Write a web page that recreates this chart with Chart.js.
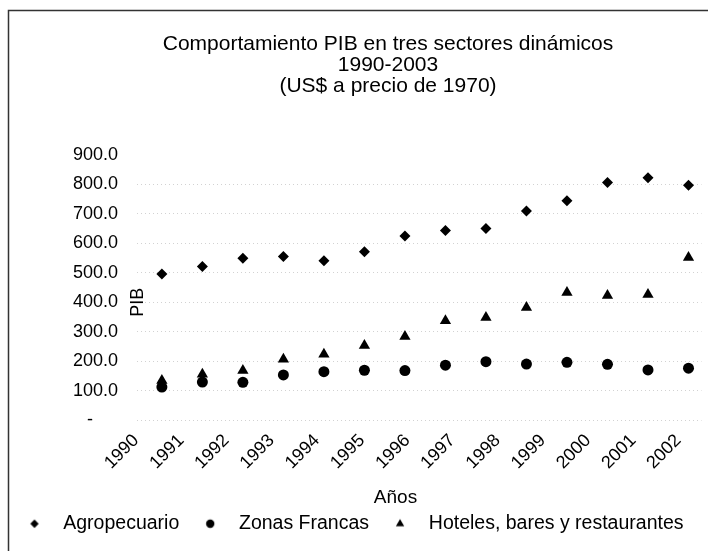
<!DOCTYPE html>
<html><head><meta charset="utf-8">
<script src="https://cdn.jsdelivr.net/npm/chart.js@4/dist/chart.umd.min.js"></script>
<style>html,body{margin:0;padding:0;background:#fff}#wrap{width:708px;height:551px}</style>
</head><body><div id="wrap"><canvas id="c" width="708" height="551"></canvas></div>
<script>
// ---- data ----
const years = [1990,1991,1992,1993,1994,1995,1996,1997,1998,1999,2000,2001,2002,2003];
const xTickLabels = ['1990','1991','1992','1993','1994','1995','1996','1997','1998','1999','2000','2001','2002'];
const yTickValues = [0,100,200,300,400,500,600,700,800,900];
const yTickLabels = ['-     ','100.0','200.0','300.0','400.0','500.0','600.0','700.0','800.0','900.0'];
const agropecuario = [496,521,549,555,541,571,625,644,650,710,745,807,823,797];
const zonasFrancas = [112,129,128,153,164,169,168,186,198,190,196,189,170,176];
const hoteles      = [134,155,168,206,223,253,284,337,348,382,433,423,426,552];
const seriesNames = ['Agropecuario','Zonas Francas','Hoteles, bares y restaurantes'];

const FONT = "'Liberation Sans', Arial, Helvetica, sans-serif";
Chart.defaults.font.family = FONT;
Chart.defaults.color = '#000';

const toPts = arr => years.map((yr, i) => ({x: yr, y: arr[i]}));

// small legend key images drawn with the library's own point helper
function legendKey(style, r) {
  const c = document.createElement('canvas');
  c.width = c.height = 2 * Math.ceil(r) + 2;
  const g = c.getContext('2d');
  g.fillStyle = '#000'; g.strokeStyle = '#000';
  Chart.helpers.drawPoint(g, {pointStyle: style, radius: r, borderWidth: 0, rotation: 0}, c.width / 2, c.height / 2);
  return c;
}
const legendKeys = [legendKey('rectRot', 4.2), legendKey('circle', 4.2), legendKey('triangle', 4.8)];

const framePlugin = {
  id: 'frame',
  beforeDraw(chart) {
    const ctx = chart.ctx;
    ctx.save();
    ctx.fillStyle = '#fff';
    ctx.fillRect(0, 0, chart.width, chart.height);
    ctx.strokeStyle = '#333';
    ctx.lineWidth = 1.5;
    ctx.strokeRect(8.5, 10.5, 760, 560);
    ctx.restore();
  }
};
const shiftPlugin = {
  id: 'shift',
  afterLayout(chart) {
    if (chart.titleBlock) { chart.titleBlock.left = 8; chart.titleBlock.right = 768; }
    if (chart.legend) { chart.legend.left -= 4.5; chart.legend.right -= 4.5; }
  }
};
const pibPlugin = {
  id: 'pib',
  afterDraw(chart) {
    const ctx = chart.ctx, y = chart.scales.y;
    ctx.save();
    ctx.translate(chart.chartArea.left + 1.5, y.getPixelForValue(400));
    ctx.rotate(-Math.PI / 2);
    ctx.font = '18px ' + FONT;
    ctx.fillStyle = '#000';
    ctx.textAlign = 'center';
    ctx.textBaseline = 'middle';
    ctx.fillText('PIB', 0, 0);
    ctx.restore();
  }
};

new Chart(document.getElementById('c'), {
  type: 'scatter',
  data: {
    datasets: [
      {label: seriesNames[0], data: toPts(agropecuario), pointStyle: 'rectRot', pointRadius: 5.5, backgroundColor: '#000', borderColor: '#000', borderWidth: 0},
      {label: seriesNames[1], data: toPts(zonasFrancas), pointStyle: 'circle', pointRadius: 5.5, backgroundColor: '#000', borderColor: '#000', borderWidth: 0},
      {label: seriesNames[2], data: toPts(hoteles), pointStyle: 'triangle', pointRadius: 6.5, backgroundColor: '#000', borderColor: '#000', borderWidth: 0}
    ]
  },
  options: {
    responsive: false,
    devicePixelRatio: 1,
    animation: false,
    events: [],
    layout: {padding: {left: 4, right: 4, top: 0, bottom: 7.5}},
    plugins: {
      title: {
        display: true,
        text: ['Comportamiento PIB en tres sectores dinámicos', '1990-2003', '(US$ a precio de 1970)'],
        font: {size: 21, weight: 'normal', lineHeight: 1.0},
        color: '#000',
        padding: {top: 34, bottom: 58}
      },
      legend: {
        position: 'bottom',
        labels: {
          usePointStyle: true, pointStyleWidth: 38, boxHeight: 10, padding: 12,
          font: {size: 19.5}, color: '#000',
          generateLabels(chart) {
            const items = Chart.defaults.plugins.legend.labels.generateLabels(chart);
            items.forEach((it, i) => { it.pointStyle = legendKeys[i]; });
            return items;
          }
        }
      },
      tooltip: {enabled: false}
    },
    scales: {
      x: {type: 'linear', min: 1989.386, max: 2003.321, display: false},
      x2: {
        type: 'linear', position: 'bottom', min: 1990.022, max: 2002.511,
        afterBuildTicks: s => { s.ticks = xTickLabels.map(t => ({value: Number(t)})); },
        afterFit: s => { s.height = 82; },
        ticks: {autoSkip: false, maxRotation: 45, minRotation: 45, font: {size: 18}, color: '#000',
                callback: (v, i) => xTickLabels[i], padding: 2},
        grid: {display: false},
        border: {display: false},
        title: {display: true, text: 'Años         ', font: {size: 19, lineHeight: 1.2}, color: '#000', padding: {top: 0, bottom: -7.4}}
      },
      y: {
        min: 0, max: 900,
        afterBuildTicks: s => { s.ticks = yTickValues.map(v => ({value: v})); },
        afterFit: s => { s.width = 133; },
        ticks: {font: {size: 18}, color: '#000', padding: 19, callback: (v, i) => yTickLabels[i]},
        grid: {drawTicks: false, color: ctx => (ctx.tick && ctx.tick.value === 900) ? 'rgba(0,0,0,0)' : '#d2d2d2', lineWidth: 1},
        border: {display: false, dash: [1, 3]}
      }
    }
  },
  plugins: [framePlugin, shiftPlugin, pibPlugin]
});
</script>
</body></html>
